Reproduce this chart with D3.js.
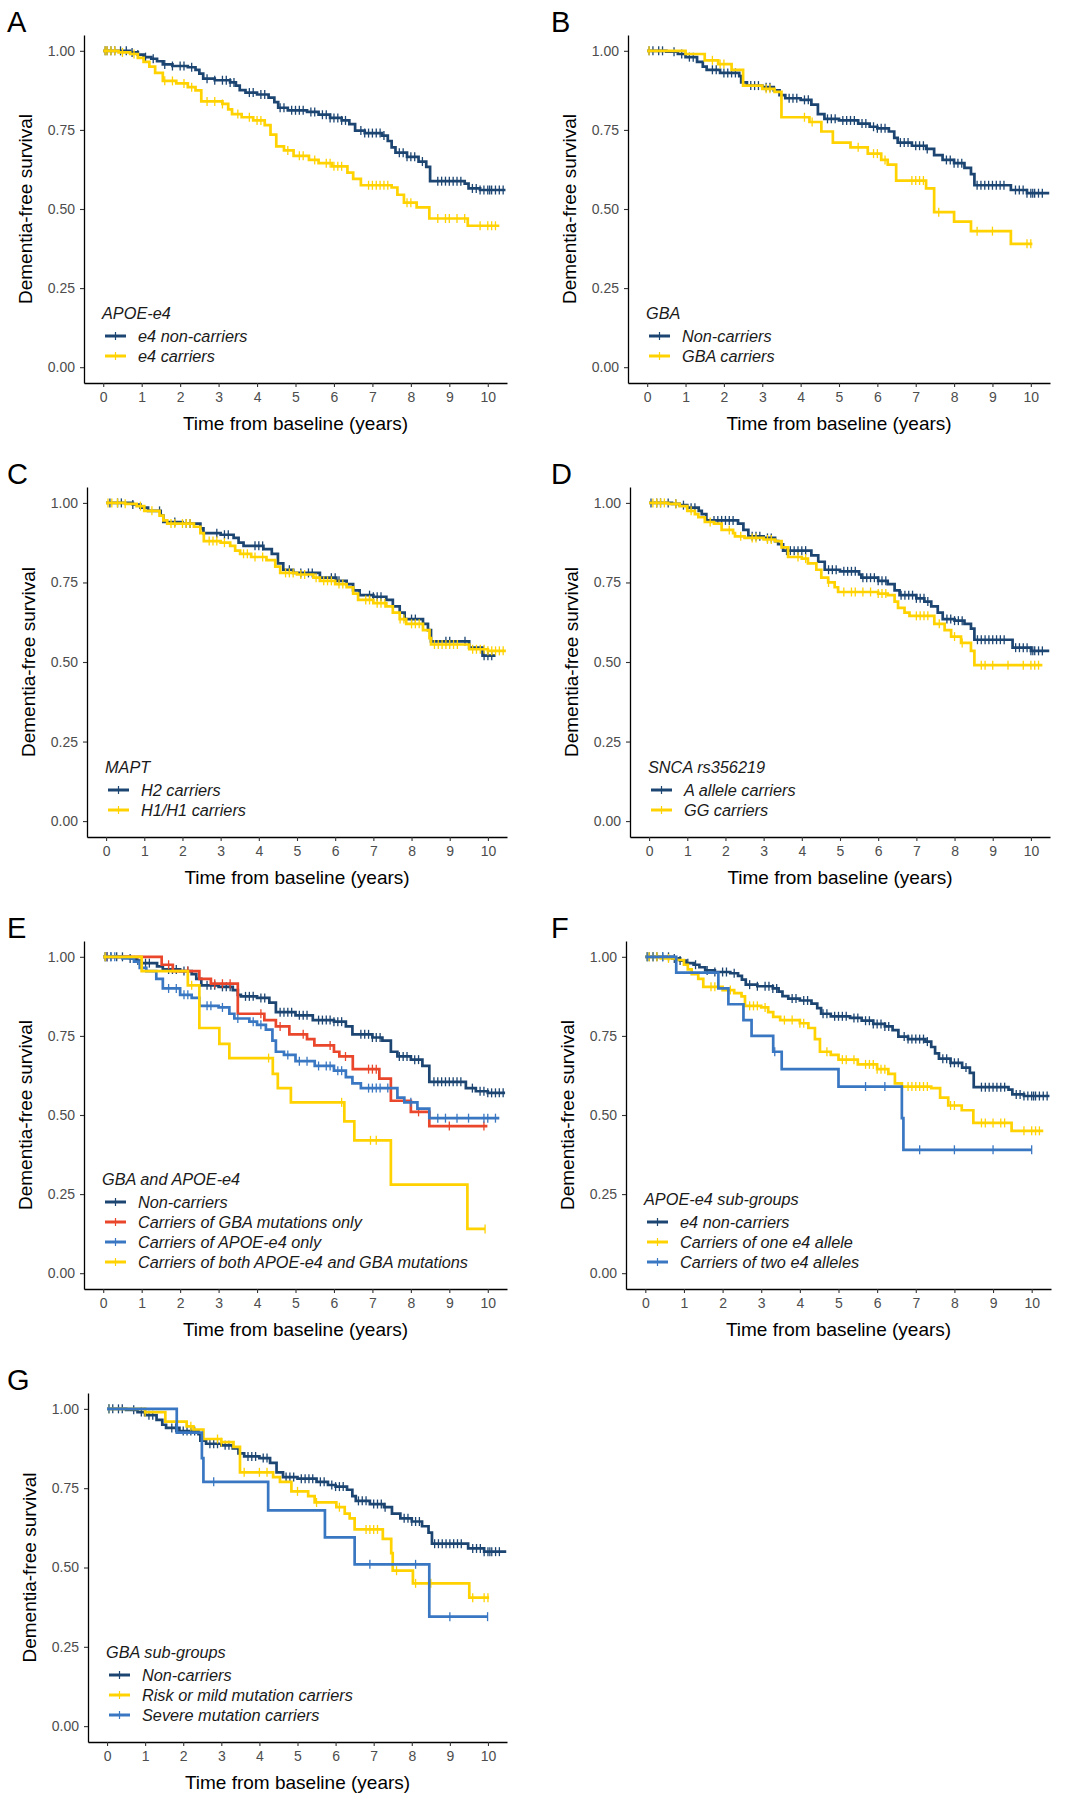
<!DOCTYPE html>
<html>
<head>
<meta charset="utf-8">
<script src="https://cdn.jsdelivr.net/npm/d3@7"></script>
<style>
  html, body { margin: 0; padding: 0; background: #fff; }
  svg { display: block; }
  text { font-family: "Liberation Sans", Arial, Helvetica, sans-serif; }
</style>
</head>
<body>
<svg id="chart" width="1071" height="1800"></svg>
<script>
// ---------------- DATA ----------------
// step curves: [time (years), survival from that time on]
const xTicks = [0,1,2,3,4,5,6,7,8,9,10];
const yTicks = [0,0.25,0.5,0.75,1];

// APOE-e4 non-carriers (panels A and F)
const e4NonCarriers = [[0,1],[0.7,0.995],[0.9,0.988],[1.05,0.98],[1.25,0.975],[1.4,0.967],[1.55,0.957],[1.8,0.952],[2.2,0.948],[2.4,0.94],[2.5,0.928],[2.6,0.912],[2.9,0.907],[3.3,0.9],[3.45,0.89],[3.55,0.876],[3.7,0.868],[4.0,0.862],[4.3,0.852],[4.45,0.838],[4.55,0.82],[4.8,0.812],[5.3,0.807],[5.6,0.798],[5.9,0.788],[6.2,0.78],[6.4,0.768],[6.55,0.748],[6.8,0.74],[7.25,0.732],[7.4,0.715],[7.5,0.695],[7.6,0.678],[7.9,0.665],[8.2,0.65],[8.4,0.633],[8.5,0.588],[9.4,0.58],[9.5,0.565],[9.8,0.56],[10.46,0.56]];
const e4NonCarriersCensor = [0.05,0.1,0.2,0.3,0.45,0.6,0.75,0.9,1.1,1.3,1.6,1.8,2.0,2.1,2.3,2.7,2.9,3.1,3.2,3.3,3.4,3.8,3.9,4.1,4.2,4.6,4.7,4.9,5.0,5.1,5.2,5.4,5.5,5.7,5.8,5.9,6.0,6.1,6.2,6.3,6.7,6.8,6.9,7.0,7.1,7.2,7.3,7.7,7.8,7.9,8.0,8.1,8.3,8.7,8.8,8.9,9.0,9.1,9.2,9.3,9.6,9.7,9.8,9.9,10.0,10.05,10.1,10.2,10.3,10.4];

// APOE-e4 carriers (panel A)
const e4Carriers = [[0,1],[0.4,0.995],[0.7,0.99],[0.9,0.978],[1.05,0.965],[1.2,0.95],[1.35,0.93],[1.55,0.905],[1.9,0.897],[2.2,0.885],[2.4,0.875],[2.55,0.84],[3.1,0.832],[3.25,0.815],[3.35,0.8],[3.6,0.79],[3.9,0.78],[4.2,0.765],[4.35,0.735],[4.5,0.698],[4.7,0.685],[4.95,0.668],[5.35,0.655],[5.6,0.645],[5.95,0.635],[6.35,0.615],[6.5,0.595],[6.7,0.575],[7.5,0.568],[7.65,0.545],[7.82,0.52],[8.15,0.505],[8.48,0.47],[9.48,0.447],[10.3,0.447]];
const e4CarriersCensor = [0.05,0.1,0.2,0.3,0.5,0.8,1.6,1.8,2.1,2.3,2.7,2.9,3.1,3.5,3.8,4.0,4.1,4.8,5.1,5.2,5.5,5.8,5.9,6.0,6.1,6.2,6.9,7.0,7.1,7.2,7.3,7.4,7.9,8.0,8.7,8.9,9.0,9.2,9.4,9.8,10.0,10.1,10.2];

// GBA non-carriers (panels B and G)
const gbaNonCarriers = [[0,1],[0.5,0.997],[0.8,0.99],[1.0,0.98],[1.3,0.965],[1.45,0.95],[1.55,0.94],[1.9,0.93],[2.4,0.92],[2.45,0.9],[2.6,0.89],[3.0,0.885],[3.3,0.875],[3.45,0.86],[3.6,0.85],[4.0,0.845],[4.28,0.83],[4.45,0.8],[4.62,0.785],[5.0,0.78],[5.5,0.77],[5.8,0.76],[6.0,0.755],[6.3,0.745],[6.44,0.725],[6.53,0.71],[6.9,0.7],[7.27,0.69],[7.48,0.67],[7.7,0.655],[8.0,0.645],[8.27,0.63],[8.44,0.61],[8.53,0.575],[9.48,0.56],[9.9,0.55],[10.48,0.55]];
const gbaNonCarriersCensor = [0.05,0.15,0.3,0.4,0.7,0.9,1.1,1.2,1.7,1.8,2.0,2.1,2.2,2.3,2.7,2.8,2.9,3.1,3.2,3.7,3.8,3.9,4.1,4.2,4.7,4.8,4.9,5.1,5.2,5.3,5.4,5.6,5.7,5.9,6.0,6.1,6.2,6.6,6.7,6.8,7.0,7.1,7.2,7.3,7.8,7.9,8.0,8.1,8.2,8.6,8.7,8.8,8.9,9.0,9.1,9.2,9.3,9.6,9.7,9.8,9.9,10.0,10.05,10.1,10.2,10.3];

// GBA carriers (panel B)
const gbaCarriers = [[0,1],[1.0,0.99],[1.5,0.97],[1.85,0.958],[2.2,0.94],[2.5,0.89],[3.0,0.88],[3.32,0.87],[3.5,0.79],[4.23,0.775],[4.54,0.745],[4.84,0.71],[5.3,0.695],[5.75,0.675],[6.1,0.655],[6.27,0.64],[6.49,0.59],[7.27,0.565],[7.48,0.49],[8.0,0.46],[8.44,0.43],[9.48,0.39],[10.04,0.39]];
const gbaCarriersCensor = [0.05,1.7,1.9,2.0,3.1,3.2,4.1,4.3,5.5,5.9,6.0,6.2,6.9,7.0,7.1,7.2,7.6,8.6,9.0,9.9,10.0];

// MAPT (panel C)
const maptH2 = [[0,1],[0.7,0.995],[0.9,0.985],[1.1,0.975],[1.43,0.96],[1.5,0.94],[2.0,0.935],[2.47,0.92],[2.55,0.905],[3.0,0.9],[3.34,0.89],[3.47,0.875],[3.6,0.865],[4.12,0.855],[4.34,0.84],[4.5,0.81],[4.64,0.79],[4.9,0.78],[5.6,0.765],[6.03,0.755],[6.3,0.745],[6.47,0.725],[6.64,0.71],[7.0,0.705],[7.34,0.695],[7.51,0.675],[7.69,0.655],[7.82,0.635],[8.3,0.62],[8.43,0.6],[8.51,0.565],[9.51,0.545],[9.86,0.52],[10.2,0.52]];
const maptH2Censor = [0.1,0.3,0.4,0.7,1.4,1.8,2.1,2.2,2.9,3.1,3.2,3.9,4.0,4.1,4.8,5.1,5.3,5.4,5.9,6.0,6.1,6.9,7.0,7.1,7.2,8.0,8.1,8.9,9.0,9.4,9.9,10.0,10.1];
const maptH1H1 = [[0,1],[0.5,0.997],[0.8,0.99],[1.0,0.975],[1.4,0.96],[1.5,0.945],[1.6,0.935],[2.3,0.925],[2.47,0.905],[2.56,0.88],[3.0,0.875],[3.25,0.865],[3.38,0.85],[3.51,0.84],[3.8,0.83],[4.2,0.82],[4.43,0.8],[4.56,0.78],[5.0,0.775],[5.43,0.765],[5.6,0.755],[6.0,0.745],[6.3,0.735],[6.47,0.715],[6.6,0.695],[7.0,0.685],[7.34,0.675],[7.51,0.655],[7.69,0.635],[7.86,0.62],[8.3,0.6],[8.47,0.575],[8.51,0.555],[9.51,0.54],[10.0,0.535],[10.47,0.535]];
const maptH1H1Censor = [0.05,0.15,0.3,0.5,0.9,1.2,1.7,1.8,2.0,2.1,2.2,2.7,2.8,2.9,3.1,3.6,3.7,3.9,4.1,4.7,4.8,4.9,5.1,5.2,5.5,5.7,5.8,5.9,6.1,6.2,6.8,6.9,7.1,7.2,7.3,7.7,7.8,8.0,8.1,8.2,8.6,8.7,8.8,8.9,9.0,9.1,9.2,9.6,9.7,9.8,9.9,10.0,10.1,10.2,10.3,10.4];

// SNCA rs356219 (panel D)
const sncaA = [[0,1],[0.6,0.997],[0.8,0.993],[1.0,0.985],[1.3,0.975],[1.38,0.965],[1.5,0.945],[2.33,0.935],[2.47,0.915],[2.6,0.895],[3.0,0.89],[3.3,0.88],[3.38,0.87],[3.51,0.85],[4.25,0.835],[4.43,0.815],[4.6,0.79],[5.0,0.785],[5.5,0.775],[5.56,0.765],[6.0,0.755],[6.25,0.745],[6.43,0.725],[6.56,0.71],[7.0,0.7],[7.21,0.69],[7.39,0.675],[7.56,0.655],[7.69,0.635],[8.0,0.63],[8.26,0.62],[8.43,0.605],[8.52,0.57],[9.52,0.545],[10.0,0.535],[10.48,0.535]];
const sncaACensor = [0.05,0.2,0.3,0.5,0.7,0.9,1.1,1.2,1.7,1.8,1.9,2.0,2.1,2.2,2.7,2.8,2.9,3.1,3.2,3.6,3.7,3.8,3.9,4.0,4.1,4.7,4.8,4.9,5.1,5.2,5.3,5.4,5.6,5.7,5.8,5.9,6.0,6.1,6.2,6.6,6.7,6.8,6.9,7.0,7.1,7.2,7.3,7.8,7.9,8.0,8.1,8.2,8.6,8.7,8.8,8.9,9.0,9.1,9.2,9.3,9.6,9.7,9.8,9.9,10.0,10.05,10.1,10.2,10.3];
const sncaGG = [[0,1],[0.5,0.997],[0.8,0.99],[1.0,0.975],[1.2,0.965],[1.29,0.955],[1.46,0.94],[1.7,0.935],[1.9,0.915],[2.2,0.905],[2.25,0.895],[2.5,0.89],[3.0,0.885],[3.3,0.88],[3.47,0.86],[3.64,0.83],[4.0,0.825],[4.16,0.81],[4.38,0.79],[4.51,0.765],[4.69,0.75],[4.86,0.735],[4.95,0.72],[6.0,0.715],[6.25,0.71],[6.43,0.69],[6.52,0.67],[6.69,0.655],[6.82,0.645],[7.47,0.62],[7.74,0.6],[7.91,0.58],[8.17,0.56],[8.43,0.535],[8.52,0.49],[10.3,0.49]];
const sncaGGCensor = [0.1,0.2,0.3,0.4,0.7,1.1,1.6,2.1,2.4,2.7,2.8,3.1,3.2,3.9,4.1,4.7,5.1,5.3,5.4,5.6,5.8,6.0,6.1,6.2,7.0,7.1,7.2,7.3,7.6,8.0,8.2,8.7,8.8,9.0,9.4,9.8,10.0,10.1,10.2];

// GBA and APOE-e4 (panel E)
const eNonCarriers = [[0,1],[0.7,0.995],[0.85,0.988],[1.0,0.98],[1.4,0.97],[1.55,0.96],[2.0,0.955],[2.3,0.945],[2.42,0.93],[2.55,0.91],[3.0,0.905],[3.37,0.895],[3.5,0.88],[3.58,0.875],[4.0,0.87],[4.32,0.855],[4.49,0.825],[5.0,0.815],[5.45,0.8],[6.0,0.795],[6.31,0.78],[6.48,0.755],[7.0,0.745],[7.26,0.735],[7.48,0.7],[7.65,0.685],[8.0,0.675],[8.3,0.655],[8.48,0.605],[9.43,0.585],[9.69,0.575],[10.0,0.57],[10.45,0.57]];
const eNonCarriersCensor = [0.05,0.1,0.2,0.35,0.5,0.7,0.9,1.1,1.2,1.7,1.8,1.9,2.1,2.2,2.7,2.8,2.9,3.1,3.2,3.3,3.7,3.8,3.9,4.1,4.2,4.6,4.7,4.8,4.9,5.1,5.2,5.3,5.6,5.7,5.8,5.9,6.0,6.1,6.2,6.7,6.8,6.9,7.0,7.1,7.2,7.7,7.8,7.9,8.1,8.2,8.6,8.7,8.8,8.9,9.0,9.1,9.2,9.3,9.6,9.8,9.9,10.0,10.1,10.2,10.3,10.4];
const eGbaOnly = [[0,1],[1.52,0.975],[1.81,0.955],[2.5,0.93],[2.8,0.915],[3.5,0.82],[4.19,0.8],[4.49,0.78],[4.84,0.755],[5.3,0.74],[5.49,0.72],[6.0,0.7],[6.14,0.685],[6.49,0.645],[7.18,0.615],[7.48,0.545],[8.0,0.51],[8.48,0.465],[9.99,0.465]];
const eGbaOnlyCensor = [0.1,1.7,2.2,2.9,3.1,3.3,4.1,4.6,5.2,5.9,6.3,6.9,7.0,7.1,8.2,9.0,9.9];
const eApoeOnly = [[0,1],[0.5,0.995],[0.8,0.985],[0.95,0.965],[1.12,0.955],[1.38,0.93],[1.55,0.9],[2.0,0.88],[2.3,0.87],[2.5,0.845],[3.0,0.84],[3.28,0.82],[3.41,0.805],[3.8,0.795],[4.0,0.785],[4.23,0.77],[4.4,0.735],[4.49,0.7],[4.7,0.69],[5.0,0.67],[5.5,0.655],[6.0,0.64],[6.31,0.62],[6.48,0.6],[6.7,0.585],[7.65,0.555],[7.83,0.54],[8.17,0.52],[8.48,0.49],[10.3,0.49]];
const eApoeOnlyCensor = [0.05,0.1,0.2,0.3,1.7,1.9,2.1,2.2,2.7,2.8,3.1,3.5,3.9,4.1,4.8,5.1,5.3,5.6,5.8,5.9,6.1,6.2,6.9,7.0,7.1,7.2,7.4,8.0,8.7,8.9,9.2,9.5,9.9,10.0,10.2];
const eBoth = [[0,1],[1.0,0.955],[2.2,0.91],[2.5,0.775],[3.02,0.725],[3.28,0.68],[4.41,0.63],[4.54,0.585],[4.88,0.54],[6.27,0.48],[6.53,0.42],[7.48,0.28],[9.47,0.14],[9.93,0.14]];
const eBothCensor = [0.05,2.3,4.3,6.2,6.95,7.1,9.93];

// APOE-e4 sub-groups (panel F)
const fOneAllele = [[0,1],[0.4,0.995],[0.8,0.99],[1.0,0.975],[1.1,0.96],[1.2,0.945],[1.37,0.93],[1.5,0.905],[2.0,0.895],[2.3,0.885],[2.49,0.875],[2.58,0.845],[3.0,0.84],[3.18,0.825],[3.31,0.81],[3.49,0.8],[4.0,0.79],[4.22,0.775],[4.39,0.74],[4.52,0.7],[4.8,0.69],[5.0,0.675],[5.5,0.66],[6.0,0.645],[6.29,0.63],[6.46,0.6],[6.64,0.59],[7.4,0.585],[7.63,0.555],[7.84,0.53],[8.19,0.515],[8.49,0.475],[9.48,0.45],[10.3,0.45]];
const fOneAlleleCensor = [0.05,0.1,0.2,0.3,0.6,1.7,1.8,2.2,2.7,2.8,2.9,3.1,3.6,3.8,4.0,4.1,4.7,5.1,5.2,5.4,5.7,5.8,5.9,6.0,6.1,6.2,6.8,6.9,7.0,7.1,7.2,7.3,7.9,8.0,8.7,8.8,9.0,9.2,9.3,9.8,10.0,10.1,10.2];
const fTwoAlleles = [[0,1],[0.8,0.95],[1.89,0.9],[2.15,0.85],[2.54,0.8],[2.75,0.75],[3.31,0.7],[3.53,0.645],[5.0,0.59],[6.64,0.49],[6.68,0.39],[10.0,0.39]];
const fTwoAllelesCensor = [0.05,0.2,0.45,3.35,5.7,6.2,7.1,8.0,9.0,10.0];

// GBA sub-groups (panel G)
const gMild = [[0,1],[1.0,0.99],[1.53,0.96],[2.09,0.945],[2.27,0.935],[2.53,0.905],[3.0,0.895],[3.32,0.88],[3.49,0.8],[4.36,0.785],[4.54,0.77],[4.84,0.74],[5.28,0.725],[5.45,0.705],[6.02,0.69],[6.24,0.67],[6.37,0.655],[6.5,0.62],[7.24,0.59],[7.46,0.545],[7.5,0.49],[8.03,0.45],[9.51,0.405],[10.03,0.405]];
const gMildCensor = [0.05,1.0,2.2,2.9,3.0,3.6,4.0,4.2,5.0,5.5,6.1,6.8,6.9,7.0,7.1,7.6,8.1,8.5,9.6,9.9,10.0];
const gSevere = [[0,1],[1.83,0.925],[2.49,0.845],[2.53,0.77],[4.23,0.68],[5.72,0.595],[6.5,0.51],[8.46,0.345],[9.99,0.345]];
const gSevereCensor = [0.05,2.8,6.9,8.1,9.0,9.99];

// ---------------- STYLE / LAYOUT ----------------
const NAVY = "#1c4572", YELLOW = "#ffd200", RED = "#e9462b", BLUE = "#3a77c2";

const panels = [
  {label:"A", box:[84,35,507,383], labelX:7, title:"APOE-e4",
   series:[["e4 non-carriers", e4NonCarriers, e4NonCarriersCensor, NAVY],
           ["e4 carriers", e4Carriers, e4CarriersCensor, YELLOW]]},
  {label:"B", box:[628,35,1050,383], labelX:551, title:"GBA",
   series:[["Non-carriers", gbaNonCarriers, gbaNonCarriersCensor, NAVY],
           ["GBA carriers", gbaCarriers, gbaCarriersCensor, YELLOW]]},
  {label:"C", box:[87,487,507,837], labelX:7, title:"MAPT",
   series:[["H2 carriers", maptH2, maptH2Censor, NAVY],
           ["H1/H1 carriers", maptH1H1, maptH1H1Censor, YELLOW]]},
  {label:"D", box:[630,487,1050,837], labelX:551, title:"SNCA rs356219",
   series:[["A allele carriers", sncaA, sncaACensor, NAVY],
           ["GG carriers", sncaGG, sncaGGCensor, YELLOW]]},
  {label:"E", box:[84,941,507,1289], labelX:7, title:"GBA and APOE-e4",
   series:[["Non-carriers", eNonCarriers, eNonCarriersCensor, NAVY],
           ["Carriers of GBA mutations only", eGbaOnly, eGbaOnlyCensor, RED],
           ["Carriers of APOE-e4 only", eApoeOnly, eApoeOnlyCensor, BLUE],
           ["Carriers of both APOE-e4 and GBA mutations", eBoth, eBothCensor, YELLOW]]},
  {label:"F", box:[626,941,1051,1289], labelX:551, title:"APOE-e4 sub-groups",
   series:[["e4 non-carriers", e4NonCarriers, e4NonCarriersCensor, NAVY],
           ["Carriers of one e4 allele", fOneAllele, fOneAlleleCensor, YELLOW],
           ["Carriers of two e4 alleles", fTwoAlleles, fTwoAllelesCensor, BLUE]]},
  {label:"G", box:[88,1393,507,1742], labelX:7, title:"GBA sub-groups",
   series:[["Non-carriers", gbaNonCarriers, gbaNonCarriersCensor, NAVY],
           ["Risk or mild mutation carriers", gMild, gMildCensor, YELLOW],
           ["Severe mutation carriers", gSevere, gSevereCensor, BLUE]]}
];

const svg = d3.select("#chart");
const bis = d3.bisector(d => d[0]).right;

function stepValue(data, t) {
  const i = Math.max(0, bis(data, t) - 1);
  return data[i][1];
}

panels.forEach(p => {
  const [L, T, R, B] = p.box;
  const x = d3.scaleLinear().domain([-0.5, 10.5]).range([L, R]);
  const y = d3.scaleLinear().domain([-0.05, 1.05]).range([B, T]);
  const g = svg.append("g");

  // panel label
  g.append("text").attr("x", p.labelX).attr("y", T - 3)
    .attr("font-size", 29).attr("fill", "#000").text(p.label);

  // curves
  const line = d3.line().x(d => x(d[0])).y(d => y(d[1])).curve(d3.curveStepAfter);
  p.series.forEach(([name, data, censor, color]) => {
    g.append("path").datum(data).attr("d", line)
      .attr("fill", "none").attr("stroke", color).attr("stroke-width", 2.7)
      .attr("stroke-linejoin", "miter");
    g.append("g").selectAll("line").data(censor).join("line")
      .attr("x1", d => x(d)).attr("x2", d => x(d))
      .attr("y1", d => y(stepValue(data, d)) - 4.5)
      .attr("y2", d => y(stepValue(data, d)) + 4.5)
      .attr("stroke", color).attr("stroke-width", 1.3);
  });

  // axes
  const xAxis = g.append("g").attr("transform", `translate(0,${B})`)
    .call(d3.axisBottom(x).tickValues(xTicks).tickFormat(d3.format("d"))
      .tickSize(4).tickSizeOuter(0).tickPadding(5));
  const yAxis = g.append("g").attr("transform", `translate(${L},0)`)
    .call(d3.axisLeft(y).tickValues(yTicks).tickFormat(d3.format(".2f"))
      .tickSize(4).tickSizeOuter(0).tickPadding(5));
  [xAxis, yAxis].forEach(a => {
    a.select(".domain").attr("stroke", "#000").attr("stroke-width", 1.3);
    a.selectAll(".tick line").attr("stroke", "#333").attr("stroke-width", 1.1);
    a.selectAll(".tick text").attr("fill", "#4d4d4d").attr("font-size", 14)
      .attr("font-family", "'Liberation Sans', Arial, sans-serif");
  });

  // axis titles
  g.append("text").attr("x", (L + R) / 2).attr("y", B + 47)
    .attr("text-anchor", "middle").attr("font-size", 19).attr("fill", "#000")
    .text("Time from baseline (years)");
  g.append("text")
    .attr("transform", `translate(${L - 52},${(T + B) / 2}) rotate(-90)`)
    .attr("text-anchor", "middle").attr("font-size", 19).attr("fill", "#000")
    .text("Dementia-free survival");

  // legend (bottom-anchored inside plot)
  const n = p.series.length;
  const lastY = B - 27;
  const firstY = lastY - (n - 1) * 20;
  const lg = g.append("g");
  lg.append("text").attr("x", L + 18).attr("y", firstY - 23 + 6)
    .attr("font-size", 16.3).attr("font-style", "italic").attr("fill", "#1a1a1a")
    .text(p.title);
  p.series.forEach(([name, data, censor, color], i) => {
    const cy = firstY + i * 20;
    lg.append("line").attr("x1", L + 21).attr("x2", L + 42).attr("y1", cy).attr("y2", cy)
      .attr("stroke", color).attr("stroke-width", 3);
    lg.append("line").attr("x1", L + 31.5).attr("x2", L + 31.5).attr("y1", cy - 4).attr("y2", cy + 4)
      .attr("stroke", color).attr("stroke-width", 1.2);
    lg.append("text").attr("x", L + 54).attr("y", cy + 6)
      .attr("font-size", 16.3).attr("font-style", "italic").attr("fill", "#1a1a1a")
      .text(name);
  });
});
</script>
</body>
</html>
